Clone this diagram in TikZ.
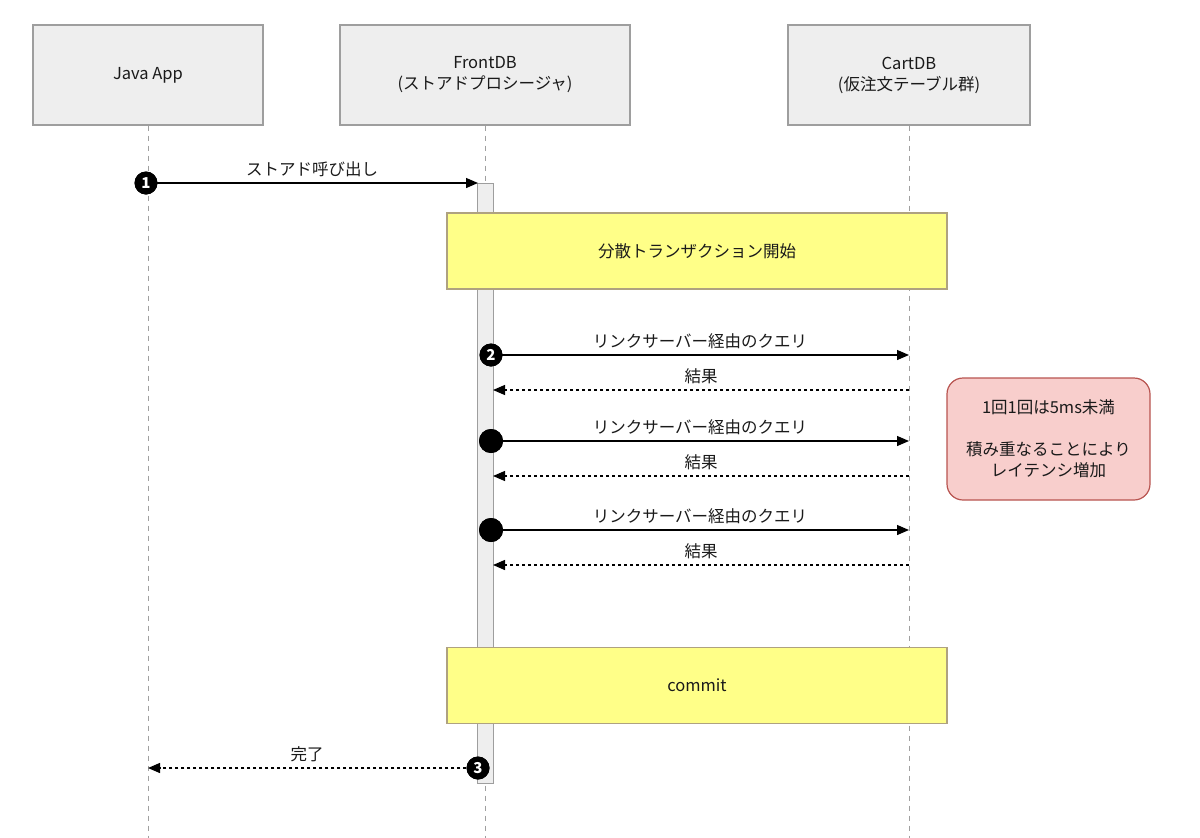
\documentclass[tikz,border=0pt]{standalone}
\usepackage{fontspec}
\setmainfont{Noto Sans CJK JP}
\usetikzlibrary{arrows.meta}
\definecolor{boxfill}{HTML}{EEEEEE}
\definecolor{boxline}{HTML}{9E9E9E}
\definecolor{lifeline}{HTML}{A0A0A0}
\definecolor{yelfill}{HTML}{FFFF88}
\definecolor{yelline}{HTML}{AFA280}
\definecolor{redfill}{HTML}{F8CECC}
\definecolor{redline}{HTML}{B85450}
\definecolor{txt}{HTML}{1A1A1A}
\tikzset{
  x=1pt, y=-1pt,
  every node/.style={font=\fontsize{16.5}{21}\selectfont, text=txt},
  actor/.style={draw=boxline, fill=boxfill, line width=1.2pt, minimum width=#1, minimum height=100pt, align=center, inner sep=0pt},
  life/.style={draw=lifeline, line width=1pt, dash pattern=on 5pt off 5pt},
  actbar/.style={draw=boxline, fill=boxfill, line width=1pt},
  note/.style={draw=yelline, fill=yelfill, line width=1.2pt, minimum width=500pt, minimum height=76pt, inner sep=0pt},
  callout/.style={draw=redline, fill=redfill, line width=1.2pt, rounded corners=16pt, minimum width=203pt, minimum height=122pt, align=center, inner sep=0pt},
  msg/.style={line width=1.3pt, -{Triangle[length=12pt,width=10pt]}},
  ret/.style={line width=1.3pt, dash pattern=on 3pt off 3pt, -{Triangle[length=12pt,width=10pt]}},
  num/.style={circle, fill=black, minimum size=23pt, inner sep=0pt, font=\fontsize{15}{15}\selectfont\bfseries, text=white},
  dot/.style={circle, fill=black, minimum size=24pt, inner sep=0pt},
  lbl/.style={above=4pt, inner sep=2pt}
}
\begin{document}
\begin{tikzpicture}
\useasboundingbox (0,0) rectangle (1200,838);
% actors
\node[actor=230pt] (java) at (148,75) {Java App};
\node[actor=290pt] (front) at (485,75) {FrontDB\\(ストアドプロシージャ)};
\node[actor=242pt] (cart) at (909,75) {CartDB\\(仮注文テーブル群)};
% lifelines
\coordinate (javaend) at (148,838);
\coordinate (frontend) at (485,838);
\coordinate (cartend) at (909,838);
\draw[life] (java.south) -- (javaend);
\draw[life] (front.south) -- (frontend);
\draw[life] (cart.south) -- (cartend);
% activation bar
\filldraw[actbar] (477,183) rectangle (493,783);
% notes
\node[note] (begin) at (697,251) {分散トランザクション開始};
\node[note] (commit) at (697,685.5) {commit};
\node[callout] (lat) at (1048.5,439) {1回1回は5ms未満\\[21pt]積み重なることにより\\レイテンシ増加};
% coordinates for lifeline points
\coordinate (a1) at (478,183);
\coordinate (c1) at (909,355);
\coordinate (r1s) at (909,390);
\coordinate (r1e) at (493,390);
\coordinate (c2) at (909,441);
\coordinate (r2s) at (909,476);
\coordinate (r2e) at (493,476);
\coordinate (c3) at (909,530);
\coordinate (r3s) at (909,565);
\coordinate (r3e) at (493,565);
\coordinate (done) at (148,768);
% numbered circles
\node[num] (n1) at (146,183) {1};
\node[num] (n2) at (491,355) {2};
\node[dot] (d2) at (491,441) {};
\node[dot] (d3) at (491,530) {};
\node[num] (n3) at (478,768) {3};
% messages
\draw[msg] (n1.center) -- node[lbl] {ストアド呼び出し} (a1);
\draw[msg] (n2.center) -- node[lbl] {リンクサーバー経由のクエリ} (c1);
\draw[ret] (r1s) -- node[lbl] {結果} (r1e);
\draw[msg] (d2.center) -- node[lbl] {リンクサーバー経由のクエリ} (c2);
\draw[ret] (r2s) -- node[lbl] {結果} (r2e);
\draw[msg] (d3.center) -- node[lbl] {リンクサーバー経由のクエリ} (c3);
\draw[ret] (r3s) -- node[lbl] {結果} (r3e);
\draw[ret] (n3.west) -- node[lbl] {完了} (done);
% redraw circles on top
\node[num] at (n1) {1};
\node[num] at (n2) {2};
\node[dot] at (d2) {};
\node[dot] at (d3) {};
\node[num] at (n3) {3};
\end{tikzpicture}
\end{document}
